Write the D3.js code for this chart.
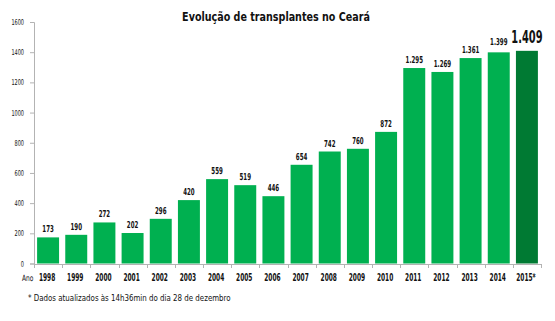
<!DOCTYPE html>
<html>
<head>
<meta charset="utf-8">
<script src="https://cdn.jsdelivr.net/npm/d3@7"></script>
<style>
  body { margin: 0; background: #fff; }
  text { font-family: "DejaVu Sans", sans-serif; fill: #111; }
  .axis path, .axis line { stroke: #b3b3b3; }
</style>
</head>
<body>
<script>
// transplant counts per year (2015 partial)
var years = ["1998","1999","2000","2001","2002","2003","2004","2005","2006","2007","2008","2009","2010","2011","2012","2013","2014","2015*"];
var totals = [173,190,272,202,296,420,559,519,446,654,742,760,872,1295,1269,1361,1399,1409];
var yTicks = [0,200,400,600,800,1000,1200,1400,1600];

var width = 555, height = 321;
var margin = {top: 22, right: 14, bottom: 57.5, left: 34}; // plot area 34..541, 22..263.5

var svg = d3.select("body").append("svg").attr("width", width).attr("height", height);

var data = years.map(function(y, i) { return {year: y, value: totals[i]}; });

var x = d3.scaleBand()
      .domain(years)
      .range([margin.left, width - margin.right])
      .paddingInner(0.22)
      .paddingOuter(0.11);

var y = d3.scaleLinear()
      .domain([0, 1600])
      .range([height - margin.bottom, margin.top]);

var fmt = function(v) { return v >= 1000 ? d3.format(",")(v).replace(",", ".") : String(v); };

// no narrow font installed, so squeeze glyphs horizontally around the anchor
function condense(sel, sx) {
  sel.attr("transform", function() {
        return "translate(" + this.getAttribute("x") + "," + this.getAttribute("y") + ") scale(" + sx + ",1)";
     })
     .attr("x", 0).attr("y", 0);
}
// squeeze a single line of text to a given width
function fitWidth(sel, w) {
  var len = sel.node().getComputedTextLength();
  condense(sel, w / len);
}

// title
svg.append("text")
   .attr("x", 276).attr("y", 20.5)
   .attr("text-anchor", "middle")
   .attr("font-size", 12.5).attr("font-weight", "bold")
   .text("Evolução de transplantes no Ceará")
   .call(fitWidth, 188);

// y axis
var yAxis = svg.append("g").attr("class", "axis")
   .attr("transform", "translate(" + margin.left + ",0)")
   .call(d3.axisLeft(y).tickValues(yTicks).tickFormat(d3.format("d")).tickSize(4).tickPadding(5));
yAxis.selectAll("text")
   .attr("font-size", 8).attr("font-family", null).attr("fill", "#222")
   .attr("x", -10 / 0.62)
   .attr("transform", "scale(0.62,1)");

// bars
svg.selectAll("rect.bar").data(data).enter().append("rect")
   .attr("class", "bar")
   .attr("x", function(d) { return x(d.year); })
   .attr("y", function(d) { return y(d.value); })
   .attr("width", x.bandwidth())
   .attr("height", function(d) { return y(0) - y(d.value); })
   .attr("fill", function(d) { return d.year === "2015*" ? "#007a33" : "#00b050"; });

// x axis: ticks sit on band edges
var xAxis = svg.append("g").attr("class", "axis")
   .attr("transform", "translate(0," + Math.round(y(0)) + ")");
xAxis.append("line")
   .attr("x1", margin.left).attr("x2", width - margin.right + 1)
   .attr("y1", 0.5).attr("y2", 0.5);
var step = x.step();
var edges = d3.range(years.length + 1).map(function(i) { return Math.round(margin.left + i * step) + 0.5; });
xAxis.selectAll("line.tick").data(edges).enter().append("line")
   .attr("class", "tick")
   .attr("x1", function(d) { return d; }).attr("x2", function(d) { return d; })
   .attr("y1", 0).attr("y2", 4);

svg.selectAll("text.year").data(data).enter().append("text")
   .attr("class", "year")
   .attr("x", function(d) { return x(d.year) + x.bandwidth() / 2 - 1; })
   .attr("y", 280.5)
   .attr("text-anchor", "middle")
   .attr("font-size", 9.8).attr("font-weight", "bold")
   .text(function(d) { return d.year; })
   .call(condense, 0.6);

svg.append("text")
   .attr("x", 22).attr("y", 280.5)
   .attr("font-size", 8.5)
   .text("Ano")
   .call(condense, 0.7);

// value labels
svg.selectAll("text.val").data(data).enter().append("text")
   .attr("class", "val")
   .attr("x", function(d) { return x(d.year) + x.bandwidth() / 2; })
   .attr("y", function(d) { return y(d.value) - (d.year === "2015*" ? 7.5 : d.value > 1380 ? 7 : 5); })
   .attr("text-anchor", "middle")
   .attr("font-size", function(d) { return d.year === "2015*" ? 17 : 9.5; })
   .attr("font-weight", "bold")
   .text(function(d) { return fmt(d.value); })
   .call(condense, 0.58);

// footnote
svg.append("text")
   .attr("x", 28).attr("y", 300.5)
   .attr("font-size", 9)
   .text("* Dados atualizados às 14h36min do dia 28 de dezembro")
   .call(fitWidth, 203);
</script>
</body>
</html>
